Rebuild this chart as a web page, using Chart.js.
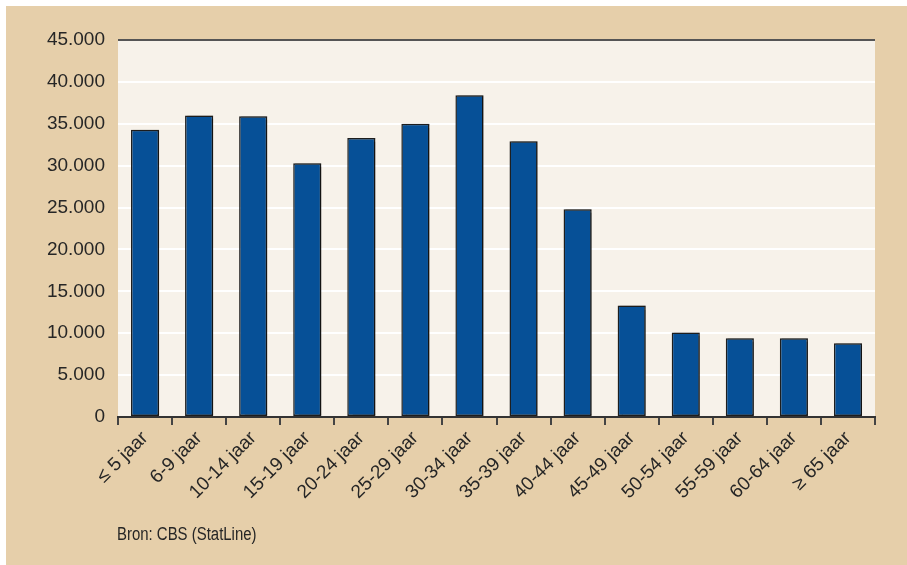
<!DOCTYPE html>
<html>
<head>
<meta charset="utf-8">
<script src="https://cdn.jsdelivr.net/npm/chart.js@4"></script>
<style>
  html, body { margin: 0; padding: 0; background: #fff; }
  #page { position: relative; width: 907px; height: 565px; overflow: hidden; }
  #panel { position: absolute; left: 6px; top: 6px; right: 0; bottom: 0; background: #e6cfaa; }
  #wrap { position: absolute; left: 0; top: 0; width: 907px; height: 565px; }
  #source {
    position: absolute; left: 117px; top: 525px;
    font: 18px 'Liberation Sans', sans-serif;
    line-height: 18px; color: #262626;
    transform: scaleX(0.83); transform-origin: left top; white-space: nowrap;
  }
</style>
</head>
<body>
<div id="page">
  <div id="panel"></div>
  <div id="wrap"><canvas id="chart"></canvas></div>
  <div id="source">Bron: CBS (StatLine)</div>
</div>
<script>
// Leeftijdsgroepen en aantallen
const ageGroups = [
  '≤ 5 jaar', '6-9 jaar', '10-14 jaar', '15-19 jaar', '20-24 jaar', '25-29 jaar', '30-34 jaar',
  '35-39 jaar', '40-44 jaar', '45-49 jaar', '50-54 jaar', '55-59 jaar', '60-64 jaar', '≥ 65 jaar'
];
const counts = [
  34300, 36000, 35900, 30300, 33300, 35000, 38400,
  32900, 24800, 13300, 10100, 9400, 9400, 8800
];
const yTicks = [0, 5000, 10000, 15000, 20000, 25000, 30000, 35000, 40000, 45000];

const BAR_BLUE = '#065097';
const PLOT_BG = '#f7f2ea';
const TEXT = '#262626';

function formatNl(v) {
  return String(v).replace(/\B(?=(\d{3})+(?!\d))/g, '.');
}

// plot background behind everything
const plotBackground = {
  id: 'plotBackground',
  beforeDraw(chart) {
    const { ctx, chartArea: a } = chart;
    ctx.save();
    ctx.fillStyle = PLOT_BG;
    ctx.fillRect(a.left, a.top, a.right - a.left, a.bottom - a.top);
    ctx.restore();
  }
};

// soft shadow on the bars
const barShadow = {
  id: 'barShadow',
  beforeDatasetsDraw(chart) {
    const ctx = chart.ctx;
    ctx.save();
    ctx.shadowColor = 'rgba(0,0,0,0.35)';
    ctx.shadowOffsetX = 2;
    ctx.shadowOffsetY = 0;
    ctx.shadowBlur = 1;
  },
  afterDatasetsDraw(chart) {
    chart.ctx.restore();
  }
};

new Chart(document.getElementById('chart'), {
  type: 'bar',
  data: {
    labels: ageGroups,
    datasets: [{
      data: counts,
      backgroundColor: BAR_BLUE,
      borderColor: '#1e1e1e',
      borderWidth: 1.5,
      borderSkipped: false,
      barPercentage: 0.52,
      categoryPercentage: 1
    }]
  },
  options: {
    responsive: true,
    maintainAspectRatio: false,
    animation: false,
    layout: { padding: { left: 0, right: 32, top: 40, bottom: 0 } },
    plugins: {
      legend: { display: false },
      tooltip: { enabled: false }
    },
    scales: {
      x: {
        offset: true,
        border: { display: true, color: '#333', width: 2 },
        grid: {
          offset: true,
          drawOnChartArea: false,
          drawTicks: true,
          tickLength: 8,
          color: '#444',
          lineWidth: 2
        },
        ticks: {
          color: TEXT,
          minRotation: 45,
          maxRotation: 45,
          autoSkip: false,
          padding: 2,
          font: { family: "'Liberation Sans', sans-serif", size: 19 }
        },
        afterFit(scale) { scale.height = 148; }
      },
      y: {
        min: 0,
        max: 45000,
        border: { display: false },
        grid: {
          drawTicks: false,
          color: ctx => ctx.tick.value === 45000 ? '#555' : (ctx.tick.value === 0 ? 'rgba(0,0,0,0)' : '#ffffff'),
          lineWidth: 2
        },
        afterBuildTicks(scale) {
          scale.ticks = yTicks.map(v => ({ value: v }));
        },
        ticks: {
          color: TEXT,
          padding: 13,
          callback: v => formatNl(v),
          font: { family: "'Liberation Sans', Arial, sans-serif", size: 19 }
        },
        afterFit(scale) { scale.width = 118; }
      }
    }
  },
  plugins: [plotBackground, barShadow]
});
</script>
</body>
</html>
